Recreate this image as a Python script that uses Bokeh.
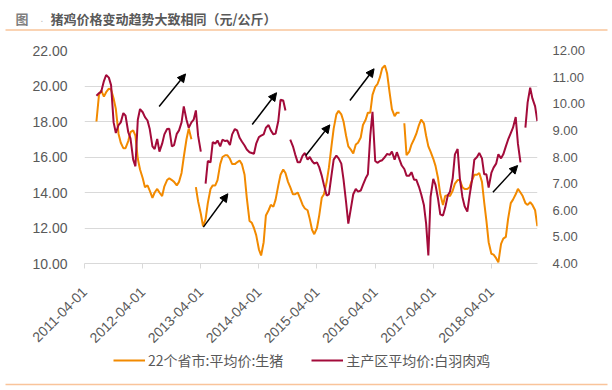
import math
import pandas as pd
from bokeh.plotting import figure
from bokeh.layouts import column
from bokeh.models import (Range1d, LinearAxis, FixedTicker, DatetimeTickFormatter,
                          PrintfTickFormatter, Legend, LegendItem, Arrow,
                          NormalHead, ColumnDataSource)
from bokeh.core.properties import value
from bokeh.embed import file_html
from bokeh.resources import INLINE

nan = float("nan")

# semi-monthly observations, 2011-06-15 .. 2019-01-15
dates = pd.date_range("2011-06-15", "2019-01-15", freq="SMS")

# 22个省市:平均价:生猪 (left axis, 元/公斤)
pig = [
    18.0, 19.5, 19.75, 19.4, 19.65, 19.85, 19.8, 19.3, 18.7, 17.3,
    16.8, 16.5, 16.5, 16.9, 17.4, 17.5, 17.2, 15.9, 15.3, 14.8,
    14.3, 14.4, 14.1, 13.7, 14.0, 14.2, 14.0, 13.8, 14.35, 14.7,
    14.8, 14.7, 14.6, 14.4, 14.6, 15.1, 16.0, 17.0, 17.6, 17.0,
    nan, 14.3, 13.5, 12.8, 12.1, 12.5, 13.4, 14.2, 14.4, 14.4,
    14.7, 15.6, 16.0, 16.1, 16.1, 15.9, 15.6, 15.6, 15.7, 15.8,
    15.6, 15.0, 13.7, 12.4, 12.3, 12.0, 11.6, 10.8, 10.45, 11.2,
    12.7, 13.0, 13.3, 13.2, 13.6, 14.4, 15.0, 15.3, 15.1, 14.6,
    14.3, 13.9, 13.9, 14.0, 13.7, 13.3, 13.1, 13.0, 12.5, 11.9,
    11.65, 12.0, 12.7, 13.7, 13.9, 14.6, 15.4, 16.6, 17.6, 18.4,
    18.6, 18.4, 18.0, 17.2, 16.6, 16.4, 16.2, 16.7, 16.8, 17.1,
    17.8, 18.1, 18.5, 18.5, 19.5, 19.95, 20.1, 20.5, 21.0, 21.15,
    20.7, 19.6, 18.7, 18.3, 18.5, 18.5, nan, 17.9, 16.1, 16.3,
    16.7, 17.0, 17.3, 17.8, 18.1, 17.9, 17.2, 16.6, 16.3, 15.9,
    15.5, 14.8, 13.9, 13.3, 13.8, 13.85, 13.8, 14.1, 14.5, 14.7,
    14.7, 14.3, 14.2, 14.2, 14.3, 14.7, 15.0, 15.0, 15.1, 14.6,
    13.45, 12.4, 11.2, 10.55, 10.5, 10.3, 10.07, 11.1, 11.4, 11.5,
    12.5, 13.4, 13.6, 13.9, 14.2, 14.0, 13.8, 13.4, 13.3, 13.45,
    13.3, 13.0, 12.1,
]

# 主产区平均价:白羽肉鸡 (right axis, 元/公斤)
chicken = [
    10.3, 10.4, 10.45, 10.85, 11.08, 10.98, 10.7, 9.3, 8.9, 9.2,
    9.3, 9.65, 9.55, 8.93, 8.7, 7.9, 7.65, 9.4, 9.8, 9.68,
    9.5, 9.37, 9.05, 8.4, 8.3, 8.68, 8.2, 8.5, 8.85, 9.05,
    9.06, 8.4, 8.45, 8.87, 9.0, 9.3, 9.9, 9.4, 9.1, 9.3,
    9.4, 9.75, 8.8, 8.2, nan, 7.0, 7.85, 7.8, 8.56, 8.5,
    8.62, 8.4, 8.65, 8.6, 8.62, 8.45, 8.85, 9.05, 9.0, 8.72,
    8.58, 8.43, 8.28, 8.18, 8.15, 8.12, 8.5, 8.75, 8.8, 8.85,
    9.1, 9.2, 9.0, 8.85, 8.88, 9.35, 10.15, 10.12, 9.75, nan,
    8.65, 8.4, 8.1, 7.8, 7.8, 8.05, 8.15, 7.9, 8.0, 7.85,
    7.75, 7.8, 7.62, 7.3, 6.95, 6.55, 6.6, 7.3, 7.9, 8.05,
    7.95, 7.75, 7.15, 6.3, 5.5, 6.1, 6.6, 6.8, 6.7, 6.74,
    6.95, 7.2, 7.35, 8.8, 9.7, 7.85, 7.78, 7.85, 7.88, 8.0,
    8.12, 8.08, 8.2, 7.9, 8.18, 7.9, 7.68, 7.55, 7.3, 7.3,
    7.43, 7.15, 7.15, 6.88, 6.6, 6.2, 5.5, 4.3, 6.5, 7.18,
    6.95, 6.43, 5.85, 5.8, 6.1, 6.55, 6.7, 7.2, 8.1, 8.3,
    7.2, 6.5, 6.15, 5.95, 6.55, 7.15, 7.9, 8.0, 8.15, 7.95,
    7.35, 7.35, 6.85, 7.4, 7.6, 7.75, 8.1, 7.95, 8.1, 8.4,
    8.65, 8.9, 9.1, 9.5, 8.5, 7.8, nan, 9.1, 10.05, 10.6,
    10.2, 9.9, 9.35,
]

tick_labels = ["2011-04-01", "2012-04-01", "2013-04-01", "2014-04-01",
               "2015-04-01", "2016-04-01", "2017-04-01", "2018-04-01"]
left_ticks = [10, 12, 14, 16, 18, 20, 22]
right_ticks = [4, 5, 6, 7, 8, 9, 10, 11, 12]

series_names = ["22个省市:平均价:生猪", "主产区平均价:白羽肉鸡"]
title_prefix = "图"
title_dot = "."
title_text = "猪鸡价格变动趋势大致相同（元/公斤）"

# trend arrows (tail date, tail value, head date, head value) on left axis scale
arrow_tail_dates = ["2012-07-13", "2013-04-17", "2014-02-18", "2015-01-21", "2015-10-25", "2018-04-11"]
arrow_tail_vals = [18.85, 12.05, 17.83, 16.08, 19.18, 14.02]
arrow_head_dates = ["2012-12-26", "2013-09-18", "2014-07-21", "2015-06-21", "2016-03-25", "2018-09-13"]
arrow_head_vals = [20.68, 13.93, 19.62, 17.81, 20.97, 15.52]

ORANGE = "#F28A00"
CRIMSON = "#A30B3A"
GRID = "#D9D9D9"
TXT = "#595959"
PEACH = "#F9C49A"
CJK = "Noto Sans CJK SC"


def ms(s):
    return pd.Timestamp(s).value / 1e6


def bare(fig):
    fig.outline_line_color = None
    fig.xaxis.visible = False
    fig.yaxis.visible = False
    fig.xgrid.grid_line_color = None
    fig.ygrid.grid_line_color = None


W = 612
TOP_H, MAIN_H, BOT_H = 36, 314, 40

# ---- title strip ----
top = figure(width=W, height=TOP_H, output_backend="svg", toolbar_location=None,
             x_range=Range1d(0, W), y_range=Range1d(TOP_H, 0),
             min_border=0, min_border_left=0, min_border_right=0,
             min_border_top=0, min_border_bottom=0, frame_align=False)
bare(top)
top.text(x=[15], y=[17.5], text=[title_prefix], text_font=value(CJK),
         text_font_size="13px", text_font_style="bold", text_color="#7F7F7F",
         text_baseline="middle")
top.text(x=[40], y=[17.5], text=[title_dot], text_font=value(CJK),
         text_font_size="10px", text_color="#BFBFBF", text_baseline="middle")
top.text(x=[50], y=[17.5], text=[title_text], text_font=value(CJK),
         text_font_size="13px", text_font_style="bold", text_color=TXT,
         text_baseline="middle")
top.segment(x0=[5], y0=[29.5], x1=[607], y1=[29.5], line_color=PEACH, line_width=1.5)

# ---- main chart ----
p = figure(width=W, height=MAIN_H, x_axis_type="datetime", output_backend="svg",
           toolbar_location=None,
           x_range=Range1d(ms("2011-04-01"), ms("2019-01-16")),
           y_range=Range1d(10, 22),
           min_border_left=84, min_border_right=75, min_border_top=14,
           min_border_bottom=87, frame_align=False)
p.outline_line_color = None
p.extra_y_ranges = {"right": Range1d(4, 12)}

src = ColumnDataSource(dict(date=dates, pig=pig, chicken=chicken))
r1 = p.line(x="date", y="pig", source=src, color=ORANGE, line_width=2)
r2 = p.line(x="date", y="chicken", source=src, color=CRIMSON, line_width=2,
            y_range_name="right")

ya = p.yaxis[0]
ya.ticker = FixedTicker(ticks=left_ticks)
ya.formatter = PrintfTickFormatter(format="%.2f")
ya.axis_line_color = None
ya.major_tick_line_color = None
ya.minor_tick_line_color = None
ya.major_tick_out = 0
ya.major_label_standoff = 17
ya.major_label_text_font = "Liberation Sans"
ya.major_label_text_font_size = "14px"
ya.major_label_text_color = TXT

ra = LinearAxis(y_range_name="right", ticker=FixedTicker(ticks=right_ticks),
                formatter=PrintfTickFormatter(format="%.2f"))
ra.axis_line_color = None
ra.major_tick_line_color = None
ra.minor_tick_line_color = None
ra.major_tick_out = 0
ra.major_label_standoff = 15
ra.major_label_text_font = "Liberation Sans"
ra.major_label_text_font_size = "13px"
ra.major_label_text_color = TXT
p.add_layout(ra, "right")

xa = p.xaxis[0]
xa.ticker = FixedTicker(ticks=[ms(s) for s in tick_labels])
fmt = "%Y-%m-%d"
xa.formatter = DatetimeTickFormatter(milliseconds=fmt, seconds=fmt, minsec=fmt, minutes=fmt,
                                     hourmin=fmt, hours=fmt, days=fmt, months=fmt, years=fmt,
                                     context=None)
xa.axis_line_color = GRID
xa.major_tick_line_color = GRID
xa.minor_tick_line_color = None
xa.major_tick_out = 5
xa.major_tick_in = 0
xa.major_label_orientation = math.pi / 4
xa.major_label_standoff = 21
xa.major_label_text_font = "Liberation Sans"
xa.major_label_text_font_size = "14px"
xa.major_label_text_color = TXT

p.xgrid.grid_line_color = None
p.ygrid.ticker = FixedTicker(ticks=left_ticks)
p.ygrid.grid_line_color = GRID
p.ygrid.grid_line_width = 1

asrc = ColumnDataSource(dict(x0=[ms(d) for d in arrow_tail_dates], y0=arrow_tail_vals,
                             x1=[ms(d) for d in arrow_head_dates], y1=arrow_head_vals))
p.add_layout(Arrow(source=asrc, x_start="x0", y_start="y0", x_end="x1", y_end="y1",
                   line_color="black", line_width=1.5,
                   end=NormalHead(size=8, fill_color="black", line_color="black", line_width=1)))

# ---- legend strip ----
bot = figure(width=W, height=BOT_H, output_backend="svg", toolbar_location=None,
             x_range=Range1d(0, W), y_range=Range1d(BOT_H, 0),
             min_border=0, min_border_left=0, min_border_right=0,
             min_border_top=0, min_border_bottom=0, frame_align=False)
bare(bot)
# legend key renderers (kept outside the visible range; only their legend glyphs show)
k1 = bot.line(x=[-20, -10], y=[5, 5], color=ORANGE, line_width=2)
k2 = bot.line(x=[-20, -10], y=[5, 5], color=CRIMSON, line_width=2)
legend = Legend(items=[LegendItem(label=series_names[0], renderers=[k1]),
                       LegendItem(label=series_names[1], renderers=[k2])],
                location=(113, 20), orientation="horizontal",
                glyph_width=32, glyph_height=20, label_height=20, label_standoff=3,
                spacing=28, padding=0, margin=0,
                border_line_color=None, background_fill_alpha=0,
                label_text_font=CJK, label_text_font_size="14px",
                label_text_color=TXT)
bot.add_layout(legend, "center")
bot.segment(x0=[5], y0=[34], x1=[607], y1=[34], line_color=PEACH, line_width=1.5)

layout = column(top, p, bot, spacing=0)
open("out.html", "w").write(file_html(layout, INLINE))
